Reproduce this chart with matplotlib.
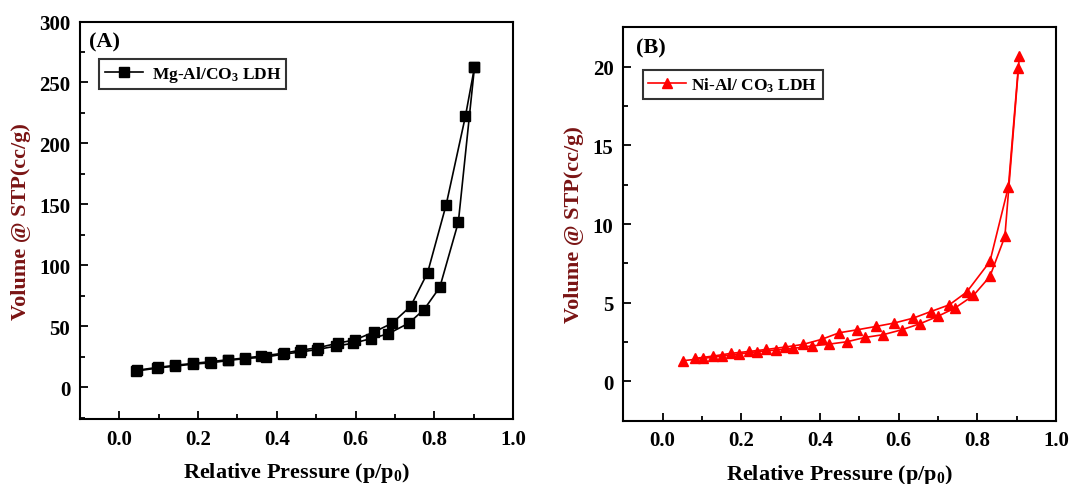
import matplotlib
matplotlib.use("Agg")
import matplotlib.pyplot as plt
from matplotlib.ticker import MultipleLocator

plt.rcParams['font.family'] = ['Liberation Serif', 'DejaVu Serif']
plt.rcParams['font.weight'] = 'bold'
plt.rcParams['mathtext.fontset'] = 'custom'
plt.rcParams['mathtext.rm'] = 'Liberation Serif:bold'
plt.rcParams['mathtext.it'] = 'Liberation Serif:bold'
plt.rcParams['mathtext.bf'] = 'Liberation Serif:bold'

# Panel A: Mg-Al/CO3 LDH
mg_ads_p = [0.042, 0.095, 0.142, 0.187, 0.233, 0.277, 0.320, 0.372, 0.416, 0.458,
            0.502, 0.551, 0.594, 0.638, 0.683, 0.735, 0.774, 0.814, 0.861, 0.902]
mg_ads_v = [13.3, 15.7, 17.4, 19.0, 20.1, 22.0, 23.6, 24.8, 27.2, 28.8,
            31.0, 33.8, 36.2, 39.8, 43.9, 52.6, 63.8, 82.1, 135.4, 262.5]
mg_des_p = [0.902, 0.879, 0.830, 0.783, 0.740, 0.693, 0.646, 0.598, 0.555, 0.505,
            0.461, 0.418, 0.361, 0.318, 0.275, 0.231, 0.186, 0.141, 0.097, 0.045]
mg_des_v = [262.5, 222.3, 149.6, 94.1, 66.5, 52.6, 45.2, 38.9, 36.2, 32.5,
            30.5, 28.0, 25.6, 24.0, 22.6, 21.0, 19.6, 18.0, 16.3, 14.0]

# Panel B: Ni-Al/CO3 LDH
ni_ads_p = [0.051, 0.103, 0.150, 0.195, 0.241, 0.287, 0.332, 0.379, 0.424, 0.469,
            0.514, 0.561, 0.608, 0.654, 0.699, 0.743, 0.790, 0.832, 0.870, 0.907]
ni_ads_v = [1.31, 1.46, 1.61, 1.74, 1.89, 1.99, 2.10, 2.25, 2.37, 2.52,
            2.79, 2.97, 3.28, 3.66, 4.13, 4.66, 5.46, 6.67, 9.21, 20.7]
ni_des_p = [0.904, 0.879, 0.832, 0.773, 0.729, 0.682, 0.637, 0.589, 0.542, 0.495,
            0.449, 0.404, 0.357, 0.311, 0.264, 0.219, 0.173, 0.129, 0.082]
ni_des_v = [19.9, 12.38, 7.62, 5.68, 4.87, 4.44, 4.02, 3.71, 3.49, 3.28,
            3.09, 2.67, 2.35, 2.18, 2.03, 1.90, 1.78, 1.61, 1.46]

x_label = 'Relative Pressure (p/p$_0$)'
y_label = 'Volume @ STP(cc/g)'
label_a = 'Mg-Al/CO$_3$ LDH'
label_b = 'Ni-Al/ CO$_3$ LDH'
ylab_color = '#7a1414'

fig = plt.figure(figsize=(10.72, 4.85), dpi=100)
axA = fig.add_axes([0.0746, 0.134, 0.404, 0.8196])
axB = fig.add_axes([0.5814, 0.1305, 0.4037, 0.811])


def style(ax):
    for s in ax.spines.values():
        s.set_linewidth(1.5)
    ax.tick_params(which='both', direction='in', top=False, right=False,
                   labelsize=15, width=1.3)
    ax.tick_params(which='major', length=6, pad=7)
    ax.tick_params(which='minor', length=3.5)
    ax.set_xlim(-0.1, 1.0)
    ax.xaxis.set_major_locator(MultipleLocator(0.2))
    ax.xaxis.set_minor_locator(MultipleLocator(0.1))
    ax.xaxis.set_major_formatter(plt.FuncFormatter(lambda v, p: f'{v:.1f}'))
    ax.set_xlabel(x_label, fontsize=16, fontweight='bold', labelpad=8)
    ax.set_ylabel(y_label, fontsize=16, fontweight='bold', color=ylab_color, labelpad=6)


# Panel A
axA.plot(mg_ads_p, mg_ads_v, '-', color='black', marker='s', ms=6.5, lw=1.2, label=label_a)
axA.plot(mg_des_p, mg_des_v, '-', color='black', marker='s', ms=6.5, lw=1.2)
style(axA)
axA.set_ylim(-26, 300)
axA.yaxis.set_major_locator(MultipleLocator(50))
axA.yaxis.set_minor_locator(MultipleLocator(25))
axA.text(0.02, 0.975, '(A)', transform=axA.transAxes, fontsize=16,
         fontweight='bold', va='top', ha='left')
legA = axA.legend(loc='upper left', bbox_to_anchor=(0.045, 0.906), fontsize=12.5,
                  frameon=True, fancybox=False, handlelength=2.2, borderpad=0.3,
                  handletextpad=0.5, borderaxespad=0)
legA.get_frame().set_edgecolor('black')
legA.get_frame().set_linewidth(1.5)

# Panel B
axB.plot(ni_ads_p, ni_ads_v, '-', color='red', marker='^', ms=7.5, lw=1.2, label=label_b)
axB.plot(ni_des_p, ni_des_v, '-', color='red', marker='^', ms=7.5, lw=1.2)
style(axB)
axB.set_ylim(-2.5, 22.5)
axB.yaxis.set_major_locator(MultipleLocator(5))
axB.yaxis.set_minor_locator(MultipleLocator(2.5))
axB.text(0.03, 0.975, '(B)', transform=axB.transAxes, fontsize=16,
         fontweight='bold', va='top', ha='left')
legB = axB.legend(loc='upper left', bbox_to_anchor=(0.045, 0.891), fontsize=12.5,
                  frameon=True, fancybox=False, handlelength=2.2, borderpad=0.3,
                  handletextpad=0.3, borderaxespad=0)
legB.get_frame().set_edgecolor('black')
legB.get_frame().set_linewidth(1.5)

fig.savefig('out.png', dpi=100)
